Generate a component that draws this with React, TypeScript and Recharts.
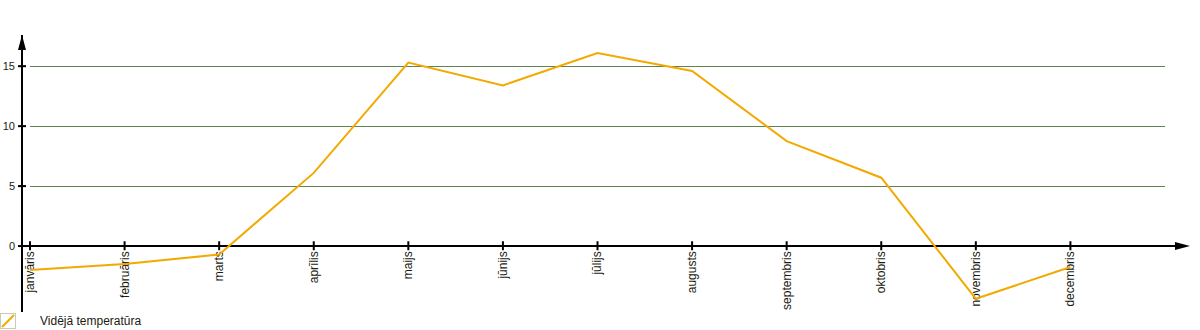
import { LineChart, Line, XAxis, YAxis, ReferenceLine, Legend } from "recharts";

const months = [
  "janvāris",
  "februāris",
  "marts",
  "aprīlis",
  "maijs",
  "jūnijs",
  "jūlijs",
  "augusts",
  "septembris",
  "oktobris",
  "novembris",
  "decembris",
];
const temps = [-2.0, -1.5, -0.7, 6.1, 15.3, 13.4, 16.1, 14.6, 8.75, 5.7, -4.4, -1.75];
const yTicks = [0, 5, 10, 15];
const gridValues = [5, 10, 15];
// empty slot after December: the grid lines run out to it
const END = " ";

const data = [
  ...months.map((month, i) => ({ month, temp: temps[i] })),
  { month: END, temp: null },
];

const FONT = '"Liberation Sans", Arial, sans-serif';
const ORANGE = "#F2A900";
const GRID = "#5F824F";

function YTick(props: any) {
  const { x, y, payload } = props;
  return (
    <g>
      <line x1={x - 4} x2={x + 4} y1={y} y2={y} stroke="#000" strokeWidth={2} />
      <text x={x - 7} y={y} dy="0.35em" textAnchor="end" fontSize={11} fontFamily={FONT} fill="#1a1a10">
        {payload.value}
      </text>
    </g>
  );
}

function XTick(props: any) {
  const { x1, y1, x2, y2, text } = props;
  const bottom = Math.max(y1, y2);
  return (
    <g>
      <line x1={x1} x2={x2} y1={y1} y2={y2} stroke="#000" strokeWidth={2} />
      <text
        x={x1}
        y={bottom + 1}
        transform={`rotate(-90, ${x1}, ${bottom + 1})`}
        textAnchor="end"
        dominantBaseline="central"
        fontSize={12}
        fontFamily={FONT}
        fill="#1a1a10"
      >
        {text}
      </text>
    </g>
  );
}

function XAxisLine(props: any) {
  const { x1, x2, y1 } = props;
  return (
    <g>
      <line x1={x1} x2={x2 - 8} y1={y1} y2={y1} stroke="#000" strokeWidth={2} />
      <polygon points={`${x2 - 15},${y1 - 4} ${x2},${y1} ${x2 - 15},${y1 + 4}`} fill="#000" />
    </g>
  );
}

function YArrow(props: any) {
  const { viewBox } = props;
  if (!viewBox) return null;
  const cx = viewBox.x + viewBox.width;
  const top = viewBox.y;
  return <polygon points={`${cx - 4},${top + 15} ${cx},${top} ${cx + 4},${top + 15}`} fill="#000" />;
}

function LegendContent(props: any) {
  const { payload } = props;
  return (
    <div style={{ height: 18, display: "flex", alignItems: "center" }}>
      {(payload || []).map((entry: any) => (
        <div key={entry.value} style={{ display: "flex", alignItems: "center" }}>
          <svg width={16} height={16} style={{ display: "block" }}>
            <rect x={0.5} y={0.5} width={15} height={15} fill="none" stroke="#C6CDB6" />
            <line x1={2} y1={14} x2={14} y2={2} stroke={ORANGE} strokeWidth={2} />
          </svg>
          <span style={{ marginLeft: 24, fontFamily: FONT, fontSize: 12, color: "#1a1a10" }}>
            {entry.value}
          </span>
        </div>
      ))}
    </div>
  );
}

export default function App() {
  return (
    <div style={{ position: "absolute", left: 0, top: 0 }}>
      <LineChart width={1200} height={330} data={data} margin={{ top: 35, right: 10, bottom: 0, left: 0 }}>
        <XAxis dataKey="month" hide padding={{ left: 8, right: 25 }} />
        <YAxis
          type="number"
          domain={[-5.5, 17.6]}
          ticks={yTicks}
          width={22}
          axisLine={{ stroke: "#000", strokeWidth: 2 }}
          tickLine={false}
          tickSize={0}
          tickMargin={0}
          tick={<YTick />}
          label={{ content: (p: any) => <YArrow {...p} /> }}
        />
        {gridValues.map((g) => (
          <ReferenceLine
            key={`grid-${g}`}
            segment={[
              { x: months[0], y: g },
              { x: END, y: g },
            ]}
            stroke={GRID}
            strokeWidth={1}
            shapeRendering="crispEdges"
          />
        ))}
        <ReferenceLine y={0} shape={(p: any) => <XAxisLine {...p} />} />
        {months.map((m) => (
          <ReferenceLine
            key={`tick-${m}`}
            segment={[
              { x: m, y: -0.35 },
              { x: m, y: 0.4 },
            ]}
            shape={(p: any) => <XTick {...p} text={m} />}
          />
        ))}
        <Line
          type="linear"
          dataKey="temp"
          name="Vidējā temperatūra"
          stroke={ORANGE}
          strokeWidth={2}
          dot={false}
          activeDot={false}
          isAnimationActive={false}
        />
        <Legend verticalAlign="bottom" align="left" content={<LegendContent />} />
      </LineChart>
    </div>
  );
}
